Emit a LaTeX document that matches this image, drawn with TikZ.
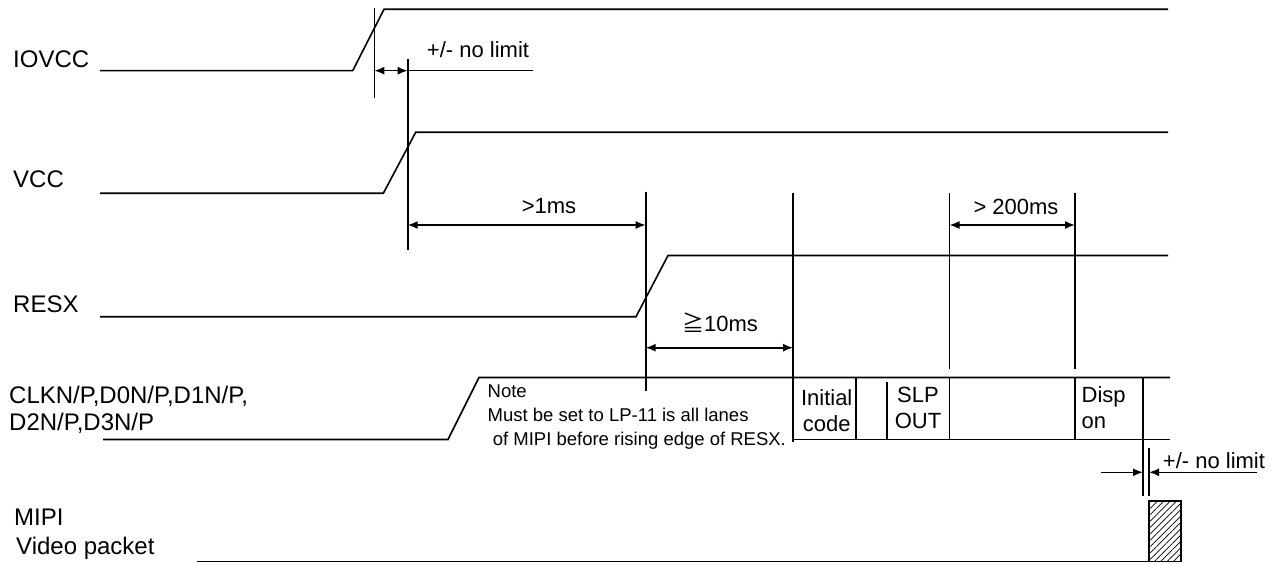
\documentclass[tikz,border=0pt]{standalone}
\usepackage{fontspec}
\setmainfont{Liberation Sans}
\newfontfamily\cjkfont{Noto Sans CJK JP}
\usetikzlibrary{arrows.meta,patterns.meta}
\begin{document}
\begin{tikzpicture}[x=1pt,y=-1pt,
  wave/.style={line width=1.6pt, line join=miter},
  tickline/.style={line width=1.6pt},
  dim/.style={line width=1.6pt, {Latex[length=10pt,width=8pt]}-{Latex[length=10pt,width=8pt]}},
  onearrow/.style={line width=1.6pt, -{Latex[length=10pt,width=8pt]}},
  lbl/.style={font=\fontsize{24}{28}\selectfont, anchor=base west, inner sep=0pt},
  txt/.style={font=\fontsize{22}{26}\selectfont, anchor=base, inner sep=0pt},
  txtw/.style={font=\fontsize{22}{26}\selectfont, anchor=base west, inner sep=0pt},
  notetxt/.style={font=\fontsize{18.5}{23}\selectfont, anchor=base west, inner sep=0pt}]
\useasboundingbox (0,0) rectangle (1277,564);

% ---------- labels ----------
\node[lbl] (lIOVCC) at (13,67.7) {IOVCC};
\node[lbl] (lVCC) at (13,188) {VCC};
\node[lbl] (lRESX) at (13,312) {RESX};
\node[lbl] (lCLK1) at (9,403) {CLKN/P,D0N/P,D1N/P,};
\node[lbl] (lCLK2) at (9,430) {D2N/P,D3N/P};
\node[lbl] (lMIPI1) at (14,525.7) {MIPI};
\node[lbl] (lMIPI2) at (16,554.7) {Video packet};

% ---------- IOVCC ----------
\coordinate (io0) at (100,70.7);
\coordinate (io1) at (352.7,70.7);
\coordinate (io2) at (384,9.3);
\coordinate (io3) at (1168,9.3);
\draw[wave] (io0) -- (io1) -- (io2) -- (io3);

\coordinate (ma1) at (374.3,8);
\coordinate (ma2) at (374.3,98);
\draw[tickline] (ma1) -- (ma2);
\coordinate (mb1) at (407.7,59);
\coordinate (mb2) at (407.7,250);
\draw[tickline] (mb1) -- (mb2);
\coordinate (da1) at (374.3,70.7);
\coordinate (da2) at (407.7,70.7);
\coordinate (da3) at (533,70.7);
\draw[dim] (da1) -- (da2);
\draw[tickline] (da2) -- (da3);
\node[txt] (tnl1) at (478,57.7) {+/- no limit};

% ---------- VCC ----------
\coordinate (v0) at (100,193.3);
\coordinate (v1) at (383.3,193.3);
\coordinate (v2) at (415.7,132.3);
\coordinate (v3) at (1168,132.3);
\draw[wave] (v0) -- (v1) -- (v2) -- (v3);

\coordinate (d1a) at (407.7,225);
\coordinate (d1b) at (645.7,225);
\draw[dim] (d1a) -- (d1b);
\node[txt] (t1ms) at (549,214) {>1ms};

\coordinate (mc1) at (645.7,191.7);
\coordinate (mc2) at (645.7,391);
\draw[tickline] (mc1) -- (mc2);

% ---------- RESX ----------
\coordinate (r0) at (100,316.7);
\coordinate (r1) at (636,316.7);
\coordinate (r2) at (668,255.5);
\coordinate (r3) at (1168,255.5);
\draw[wave] (r0) -- (r1) -- (r2) -- (r3);

\coordinate (d10a) at (645.7,347.7);
\coordinate (d10b) at (793,347.7);
\draw[dim] (d10a) -- (d10b);
\node[txt] (t10ms) at (720,331) {{\cjkfont ≧}10ms};

\coordinate (md1) at (793,193.3);
\coordinate (md2) at (793,442);
\draw[tickline] (md1) -- (md2);
\coordinate (me1) at (949.5,193.3);
\coordinate (me2) at (949.5,369);
\draw[tickline] (me1) -- (me2);
\coordinate (mf1) at (1075,193.3);
\coordinate (mf2) at (1075,369);
\draw[tickline] (mf1) -- (mf2);

\coordinate (d200a) at (949.5,225);
\coordinate (d200b) at (1075,225);
\draw[dim] (d200a) -- (d200b);
\node[txt] (t200ms) at (1016,214.5) {> 200ms};

% ---------- CLK / data bus ----------
\coordinate (c0) at (103,439.5);
\coordinate (c1) at (448,439.5);
\coordinate (c2) at (479,377.5);
\coordinate (c3) at (1170,377.5);
\draw[wave] (c0) -- (c1) -- (c2) -- (c3);
\coordinate (cb0) at (793,439.5);
\coordinate (cb1) at (1170,439.5);
\draw[wave] (cb0) -- (cb1);

\coordinate (bx1t) at (856,377.5);  \coordinate (bx1b) at (856,439.5);
\coordinate (bx2t) at (887,382);    \coordinate (bx2b) at (887,439.5);
\coordinate (bx3t) at (949.5,377.5);\coordinate (bx3b) at (949.5,439.5);
\coordinate (bx4t) at (1075,377.5); \coordinate (bx4b) at (1075,439.5);
\coordinate (bx5t) at (1143,377.5); \coordinate (bx5b) at (1143,496);
\draw[tickline] (bx1t) -- (bx1b);
\draw[tickline] (bx2t) -- (bx2b);
\draw[tickline] (bx3t) -- (bx3b);
\draw[tickline] (bx4t) -- (bx4b);
\draw[tickline] (bx5t) -- (bx5b);

\node[txt] (tInit1) at (826.7,405) {Initial};
\node[txt] (tInit2) at (826.7,431) {code};
\node[txt] (tSlp1) at (918,402) {SLP};
\node[txt] (tSlp2) at (918,428) {OUT};
\node[txtw] (tDisp1) at (1081.5,402) {Disp};
\node[txtw] (tDisp2) at (1081.5,428) {on};

\node[notetxt] (n1) at (487.5,397) {Note};
\node[notetxt] (n2) at (487.5,421.5) {Must be set to LP-11 is all lanes};
\node[notetxt] (n3) at (487.5,445) {\ of MIPI before rising edge of RESX.};

% ---------- bottom +/- no limit ----------
\coordinate (mg1) at (1149,448);
\coordinate (mg2) at (1149,496);
\draw[tickline] (mg1) -- (mg2);
\coordinate (ab1) at (1100.7,472.3);
\coordinate (ab2) at (1143,472.3);
\coordinate (ab3) at (1256.7,472.3);
\coordinate (ab4) at (1149,472.3);
\draw[onearrow] (ab1) -- (ab2);
\draw[onearrow] (ab3) -- (ab4);
\node[txtw] (tnl2) at (1162.7,468) {+/- no limit};

% ---------- MIPI video packet ----------
\coordinate (m0) at (197,561.5);
\coordinate (m1) at (1149,561.5);
\draw[wave] (m0) -- (m1);
\draw[line width=1.6pt, pattern={Lines[angle=45,distance=4.5pt,line width=0.7pt]}]
  (1149,501) rectangle (1181,561.5);
\end{tikzpicture}
\end{document}
